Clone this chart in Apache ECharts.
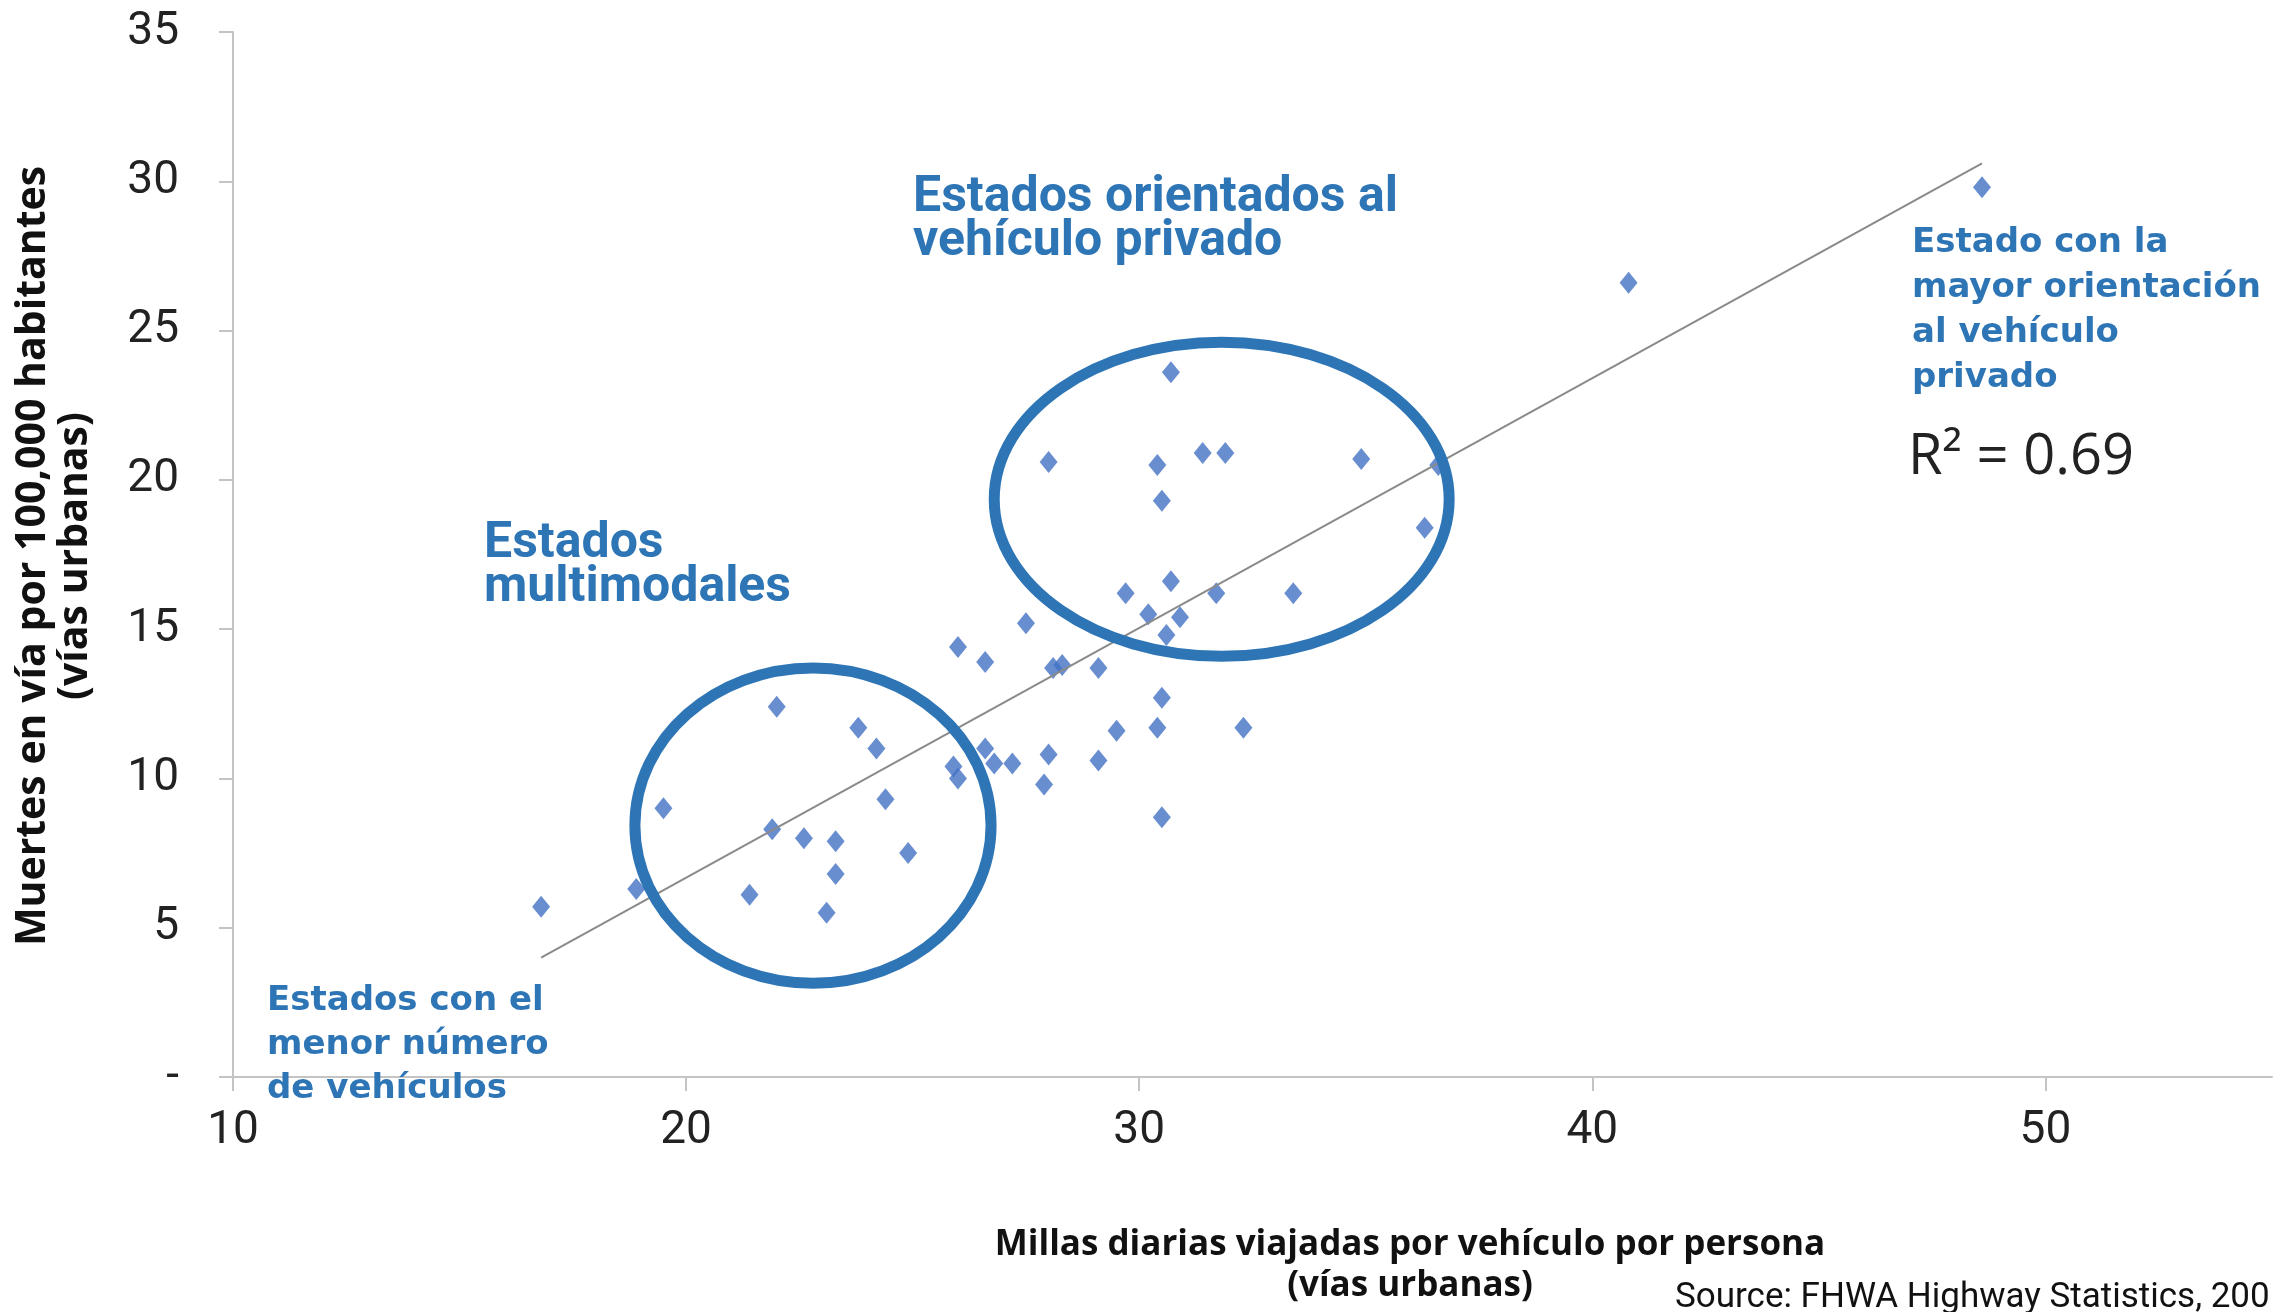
<!DOCTYPE html>
<html>
<head>
<meta charset="utf-8">
<script src="https://cdn.jsdelivr.net/npm/echarts@6.0.0/dist/echarts.min.js"></script>
<style>
html, body { margin: 0; padding: 0; background: #fff; }
#chart { width: 2280px; height: 1312px; }
</style>
</head>
<body>
<div id="chart"></div>
<script>
// millas diarias por vehiculo por persona (eje x)
var millas = [16.8, 18.9, 19.5, 21.4, 21.9, 22.0, 22.6, 23.1, 23.3, 23.3,
	23.8, 24.2, 24.4, 24.9, 25.9, 26.0, 26.0, 26.6, 26.6, 26.8,
	27.2, 27.5, 28.0, 27.9, 28.0, 28.1, 28.3, 29.1, 29.1, 29.5,
	29.7, 30.2, 30.4, 30.4, 30.5, 30.5, 30.5, 30.6, 30.7, 30.7,
	30.9, 31.4, 31.7, 31.9, 32.3, 33.4, 34.9, 36.3, 36.6, 40.8, 48.6];
// muertes por 100,000 habitantes (eje y)
var muertes = [5.7, 6.3, 9.0, 6.1, 8.3, 12.4, 8.0, 5.5, 7.9, 6.8,
	11.7, 11.0, 9.3, 7.5, 10.4, 10.0, 14.4, 13.9, 11.0, 10.5,
	10.5, 15.2, 10.8, 9.8, 20.6, 13.7, 13.8, 10.6, 13.7, 11.6,
	16.2, 15.5, 11.7, 20.5, 8.7, 12.7, 19.3, 14.8, 23.6, 16.6,
	15.4, 20.9, 16.2, 20.9, 11.7, 16.2, 20.7, 18.4, 20.5, 26.6, 29.8];
// linea de tendencia (extremos)
var tendenciaX = [16.8, 48.6];
var tendenciaY = [4.0, 30.6];
var xTicks = [10, 20, 30, 40, 50];

// elipses de anotacion en unidades de datos: centro x, centro y, radio x, radio y
var elipseMulti = [22.8, 8.42, 3.93, 5.28];
var elipsePrivado = [31.82, 19.35, 5.02, 5.26];

var azul = '#2E75B6';
var mychart = echarts.init(document.getElementById('chart'));

var puntos = millas.map(function(x, i) { return [x, muertes[i]]; });
var linea = tendenciaX.map(function(x, i) { return [x, tendenciaY[i]]; });

var option = {
	animation : false,
	backgroundColor : '#ffffff',
	grid : {
		left : 233,
		right : 8,
		top : 32,
		bottom : 235
	},
	xAxis : {
		type : 'value',
		min : 10,
		max : 55,
		interval : 10,
		splitLine : { show : false },
		axisLine : { show : true, lineStyle : { color : '#c4c4c4', width : 2 } },
		axisTick : { show : true, length : 14, customValues : xTicks, lineStyle : { color : '#c4c4c4', width : 2 } },
		axisLabel : {
			customValues : xTicks,
			margin : 31,
			fontSize : 46,
			fontFamily : 'Roboto',
			color : '#222'
		}
	},
	yAxis : {
		type : 'value',
		min : 0,
		max : 35,
		interval : 5,
		splitLine : { show : false },
		axisLine : { show : true, lineStyle : { color : '#c4c4c4', width : 2 } },
		axisTick : { show : true, length : 14, lineStyle : { color : '#c4c4c4', width : 2 } },
		axisLabel : {
			margin : 54,
			fontSize : 46,
			fontFamily : 'Roboto',
			color : '#222',
			formatter : function(v) { return v === 0 ? '-' : v; }
		}
	},
	series : [ {
		type : 'line',
		data : linea,
		symbol : 'none',
		z : 3,
		lineStyle : { color : '#8a8a8a', width : 2 }
	}, {
		type : 'scatter',
		data : puntos,
		symbol : 'diamond',
		symbolSize : [18, 22],
		z : 2,
		itemStyle : { color : '#4472C4' }
	} ]
};
mychart.setOption(option);

function elipse(e) {
	var c = mychart.convertToPixel({ gridIndex : 0 }, [e[0], e[1]]);
	var r = mychart.convertToPixel({ gridIndex : 0 }, [e[0] + e[2], e[1] + e[3]]);
	return {
		type : 'ellipse',
		shape : { cx : c[0], cy : c[1], rx : r[0] - c[0], ry : c[1] - r[1] },
		style : { fill : null, stroke : azul, lineWidth : 11 },
		z : 10
	};
}

function texto(x, y, txt, font, color, extra) {
	var t = {
		type : 'text',
		x : x,
		y : y,
		z : 20,
		style : {
			text : txt,
			font : font,
			fill : color,
			textAlign : 'left',
			textVerticalAlign : 'middle'
		}
	};
	if (extra) {
		for (var k in extra) t.style[k] = extra[k];
	}
	return t;
}

var graficos = [
	elipse(elipseMulti),
	elipse(elipsePrivado),
	texto(913, 220, 'Estados orientados al\nvehículo privado', 'bold 50px Roboto', azul, { lineHeight : 44 }),
	texto(484, 566, 'Estados\nmultimodales', 'bold 50px Roboto', azul, { lineHeight : 44 }),
	texto(267, 1045, 'Estados con el\nmenor número\nde vehículos', 'bold 34px "DejaVu Sans"', azul, { lineHeight : 44 }),
	texto(1912, 311, 'Estado con la\nmayor orientación\nal vehículo\nprivado', 'bold 34px "DejaVu Sans"', azul, { lineHeight : 45 }),
	texto(1908, 458, 'R² = 0.69', '56px "Open Sans"', '#222'),
	{
		type : 'text',
		x : 54,
		y : 556,
		rotation : Math.PI / 2,
		z : 20,
		style : {
			text : 'Muertes en vía por 100,000 habitantes\n(vías urbanas)',
			font : 'bold 41px "Open Sans"',
			fill : '#111',
			lineHeight : 42,
			textAlign : 'center',
			textVerticalAlign : 'middle'
		}
	},
	{
		type : 'text',
		x : 1410,
		y : 1266,
		z : 20,
		style : {
			text : 'Millas diarias viajadas por vehículo por persona\n(vías urbanas)',
			font : 'bold 35px "Open Sans"',
			fill : '#111',
			lineHeight : 41,
			textAlign : 'center',
			textVerticalAlign : 'middle'
		}
	},
	texto(1675, 1298, 'Source: FHWA Highway Statistics, 200', '35px Roboto', '#111')
];

mychart.setOption({ graphic : graficos });
</script>
</body>
</html>
